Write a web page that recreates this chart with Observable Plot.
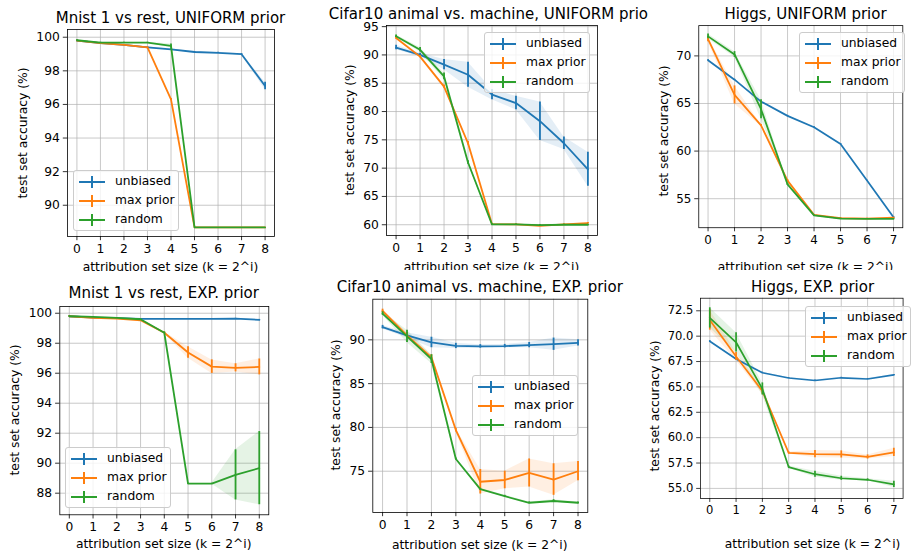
<!DOCTYPE html>
<html><head><meta charset="utf-8">
<script src="https://cdn.jsdelivr.net/npm/d3@7"></script>
<script src="https://cdn.jsdelivr.net/npm/@observablehq/plot@0.6"></script>
<style>
html,body{margin:0;padding:0;background:#fff;overflow:hidden}
#fig{position:relative;width:912px;height:555px;overflow:hidden;font-family:"DejaVu Sans",sans-serif;color:#000}
.cell{position:absolute;overflow:hidden;background:#fff}
.cell svg{position:absolute;left:0;top:0}
.txt{position:absolute;white-space:nowrap;line-height:1;transform:translate(-50%,-50%)}
.title{font-size:15px}
.lab{font-size:12.3px}
.ylab{transform:translate(-50%,-50%) rotate(-90deg)}
.legend{position:absolute;box-sizing:border-box;border:1px solid #cccccc;border-radius:3px;background:rgba(255,255,255,0.8)}
.lrow{position:absolute;left:0;width:100%;height:0}
.lline{position:absolute;left:5px;width:26px;top:-1px;height:2px}
.ltick{position:absolute;left:17px;top:-6px;width:2px;height:12px}
.ltext{position:absolute;left:41px;top:0;font-size:12.3px;line-height:1;transform:translateY(-55%);white-space:nowrap}
</style>
</head><body><div id="fig"></div>
<script>
// ---------- data ----------
const seriesNames = ["unbiased", "max prior", "random"];
const xTicks9 = [0, 1, 2, 3, 4, 5, 6, 7, 8];
const xTicks8 = [0, 1, 2, 3, 4, 5, 6, 7];

const mnistYTicks = [90, 92, 94, 96, 98, 100];
const mnistExpYTicks = [88, 90, 92, 94, 96, 98, 100];
const cifarUniYTicks = [60, 65, 70, 75, 80, 85, 90, 95];
const cifarExpYTicks = [75, 80, 85, 90];
const higgsUniYTicks = [55, 60, 65, 70];
const higgsExpYTicks = [55.0, 57.5, 60.0, 62.5, 65.0, 67.5, 70.0, 72.5];

// Mnist 1 vs rest, UNIFORM prior
const mnistUniUnbiased    = [99.80, 99.65, 99.55, 99.40, 99.28, 99.12, 99.07, 98.99, 97.10];
const mnistUniUnbiasedErr = [0.02, 0.02, 0.02, 0.02, 0.03, 0.03, 0.03, 0.03, 0.22];
const mnistUniMax         = [99.80, 99.65, 99.54, 99.40, 96.30, 88.68, 88.68, 88.68, 88.68];
const mnistUniMaxErr      = [0.02, 0.02, 0.02, 0.02, 0.05, 0, 0, 0, 0];
const mnistUniRandom      = [99.82, 99.68, 99.68, 99.68, 99.48, 88.68, 88.68, 88.68, 88.68];
const mnistUniRandomErr   = [0.02, 0.02, 0.02, 0.02, 0.12, 0, 0, 0, 0];

// Cifar10 animal vs. machine, UNIFORM prior
const cifarUniUnbiased    = [91.3, 90.0, 88.3, 86.5, 83.0, 81.5, 78.3, 74.4, 69.8];
const cifarUniUnbiasedErr = [0.4, 0.3, 0.9, 2.2, 0.9, 1.2, 3.4, 1.1, 3.0];
const cifarUniMax         = [93.0, 89.7, 84.4, 74.4, 60.1, 60.05, 59.8, 60.05, 60.3];
const cifarUniMaxErr      = [0.2, 0.2, 0.3, 0.3, 0.1, 0.1, 0.1, 0.1, 0.1];
const cifarUniRandom      = [93.3, 90.9, 86.2, 71.0, 60.05, 60.05, 59.95, 60.0, 60.0];
const cifarUniRandomErr   = [0.2, 0.4, 0.6, 0.3, 0.1, 0.1, 0.1, 0.1, 0.1];

// Higgs, UNIFORM prior
const higgsUniUnbiased    = [69.55, 67.5, 65.2, 63.7, 62.5, 60.75, 56.9, 53.05];
const higgsUniUnbiasedErr = [0.05, 0.05, 0.05, 0.05, 0.05, 0.05, 0.05, 0.05];
const higgsUniMax         = [71.75, 65.9, 62.7, 56.9, 53.3, 52.95, 52.9, 53.0];
const higgsUniMaxErr      = [0.25, 0.95, 0.1, 0.1, 0.05, 0.05, 0.05, 0.05];
const higgsUniRandom      = [72.05, 70.15, 64.4, 56.5, 53.25, 52.9, 52.88, 52.88];
const higgsUniRandomErr   = [0.25, 0.3, 1.0, 0.1, 0.05, 0.05, 0.05, 0.05];

// Mnist 1 vs rest, EXP. prior
const mnistExpUnbiased    = [99.80, 99.71, 99.67, 99.62, 99.62, 99.62, 99.62, 99.64, 99.56];
const mnistExpUnbiasedErr = [0.02, 0.02, 0.02, 0.02, 0.02, 0.02, 0.02, 0.02, 0.03];
const mnistExpMax         = [99.80, 99.69, 99.64, 99.53, 98.70, 97.38, 96.44, 96.36, 96.42];
const mnistExpMaxErr      = [0.02, 0.02, 0.02, 0.03, 0.05, 0.38, 0.45, 0.27, 0.53];
const mnistExpRandom      = [99.80, 99.76, 99.69, 99.60, 98.70, 88.64, 88.64, 89.22, 89.67];
const mnistExpRandomErr   = [0.02, 0.02, 0.02, 0.02, 0.05, 0.02, 0.02, 1.67, 2.44];

// Cifar10 animal vs. machine, EXP. prior
const cifarExpUnbiased    = [91.45, 90.5, 89.7, 89.3, 89.25, 89.28, 89.4, 89.5, 89.65];
const cifarExpUnbiasedErr = [0.2, 0.3, 0.6, 0.3, 0.2, 0.2, 0.3, 0.7, 0.35];
const cifarExpMax         = [93.3, 90.5, 88.0, 79.7, 73.8, 74.0, 74.8, 74.05, 75.0];
const cifarExpMaxErr      = [0.2, 0.3, 0.3, 0.2, 1.4, 1.0, 1.6, 1.8, 1.1];
const cifarExpRandom      = [93.0, 90.4, 87.8, 76.4, 72.95, 72.15, 71.4, 71.6, 71.4];
const cifarExpRandomErr   = [0.2, 0.7, 0.5, 0.1, 0.1, 0.1, 0.1, 0.15, 0.1];

// Higgs, EXP. prior
const higgsExpUnbiased    = [69.5, 67.75, 66.4, 65.88, 65.63, 65.9, 65.78, 66.18];
const higgsExpUnbiasedErr = [0.05, 0.05, 0.05, 0.05, 0.05, 0.05, 0.05, 0.05];
const higgsExpMax         = [71.6, 68.0, 64.6, 58.5, 58.38, 58.35, 58.1, 58.55];
const higgsExpMaxErr      = [1.0, 0.4, 0.3, 0.1, 0.35, 0.35, 0.2, 0.4];
const higgsExpRandom      = [71.8, 69.4, 64.8, 57.1, 56.4, 56.0, 55.85, 55.4];
const higgsExpRandomErr   = [1.0, 0.95, 0.6, 0.1, 0.3, 0.2, 0.1, 0.3];

// ---------- styling / layout ----------
const colors = ["#1f77b4", "#ff7f0e", "#2ca02c"];
const yLabel = "test set accuracy (%)";
const xLabel = "attribution set size (k = 2^i)";

function rows(xs, v, e) { return xs.map((x, i) => ({x, y: v[i], lo: v[i] - e[i], hi: v[i] + e[i]})); }

const panels = [
  {title: "Mnist 1 vs rest, UNIFORM prior", xs: xTicks9, yTicks: mnistYTicks, fmt: d3.format("d"),
   data: [[mnistUniUnbiased, mnistUniUnbiasedErr], [mnistUniMax, mnistUniMaxErr], [mnistUniRandom, mnistUniRandomErr]],
   cell: [0, 0, 302, 274], frame: [67, 274, 29, 236], xDom: [-0.4, 8.4], yDom: [88.14, 100.46],
   titleY: 18, xlabY: 266.7, ylabX: 23.3, legend: [73, 170]},
  {title: "Cifar10 animal vs. machine, UNIFORM prior", xs: xTicks9, yTicks: cifarUniYTicks, fmt: d3.format("d"),
   data: [[cifarUniUnbiased, cifarUniUnbiasedErr], [cifarUniMax, cifarUniMaxErr], [cifarUniRandom, cifarUniRandomErr]],
   cell: [302, 0, 346, 269.5], frame: [386, 597, 25, 235], xDom: [-0.4, 8.4], yDom: [58.1, 95.2],
   titleY: 13.5, xlabY: 266.7, ylabX: 349.5, legend: [484, 32]},
  {title: "Higgs, UNIFORM prior", xs: xTicks8, yTicks: higgsUniYTicks, fmt: d3.format("d"),
   data: [[higgsUniUnbiased, higgsUniUnbiasedErr], [higgsUniMax, higgsUniMaxErr], [higgsUniRandom, higgsUniRandomErr]],
   cell: [648, 0, 264, 269.5], frame: [700, 911, 26, 235], xDom: [-0.35, 7.35], yDom: [51.95, 73.18],
   titleY: 13.5, xlabY: 266.7, ylabX: 663.5, legend: [799, 32]},
  {title: "Mnist 1 vs rest, EXP. prior", xs: xTicks9, yTicks: mnistExpYTicks, fmt: d3.format("d"),
   data: [[mnistExpUnbiased, mnistExpUnbiasedErr], [mnistExpMax, mnistExpMaxErr], [mnistExpRandom, mnistExpRandomErr]],
   cell: [0, 274, 302, 281], frame: [59.3, 268.3, 306, 514.3], xDom: [-0.4, 8.4], yDom: [86.56, 100.45],
   titleY: 292.7, xlabY: 543.7, ylabX: 15.3, legend: [65, 447]},
  {title: "Cifar10 animal vs. machine, EXP. prior", xs: xTicks9, yTicks: cifarExpYTicks, fmt: d3.format("d"),
   data: [[cifarExpUnbiased, cifarExpUnbiasedErr], [cifarExpMax, cifarExpMaxErr], [cifarExpRandom, cifarExpRandomErr]],
   cell: [302, 274, 328, 281], frame: [372.3, 587.3, 298.7, 512], xDom: [-0.4, 8.4], yDom: [70.29, 94.64],
   titleY: 287, xlabY: 544.5, ylabX: 335.7, legend: [472, 375]},
  {title: "Higgs, EXP. prior", xs: xTicks8, yTicks: higgsExpYTicks, fmt: d3.format(".1f"),
   data: [[higgsExpUnbiased, higgsExpUnbiasedErr], [higgsExpMax, higgsExpMaxErr], [higgsExpRandom, higgsExpRandomErr]],
   cell: [630, 274, 282, 281], frame: [704.7, 920.5, 299.3, 512.7], xDom: [-0.35, 7.35], yDom: [54.01, 73.74],
   titleY: 287, xlabY: 543.7, ylabX: 655.2, legend: [805, 306]}
];

const fig = document.getElementById("fig");

function addText(parent, cls, text, x, y) {
  const d = document.createElement("div");
  d.className = "txt " + cls;
  d.textContent = text;
  d.style.left = x + "px";
  d.style.top = y + "px";
  parent.appendChild(d);
  return d;
}

for (const p of panels) {
  const [cx, cy, cw, ch] = p.cell;
  const [fl, fr, ft, fb] = p.frame;
  const cell = document.createElement("div");
  cell.className = "cell";
  Object.assign(cell.style, {left: cx + "px", top: cy + "px", width: cw + "px", height: ch + "px"});
  fig.appendChild(cell);

  const series = p.data.map(([v, e], i) => ({name: seriesNames[i], color: colors[i], rows: rows(p.xs, v, e)}));
  const mR = 10, mB = 40;
  const marks = [
    Plot.gridX({ticks: p.xs, stroke: "#b0b0b0", strokeOpacity: 0.7, strokeWidth: 1}),
    Plot.gridY({ticks: p.yTicks, stroke: "#b0b0b0", strokeOpacity: 0.7, strokeWidth: 1}),
    ...series.map(s => Plot.areaY(s.rows, {x: "x", y1: "lo", y2: "hi", fill: s.color, fillOpacity: 0.12})),
    ...series.flatMap(s => [
      Plot.lineY(s.rows, {x: "x", y: "y", stroke: s.color, strokeWidth: 1.8}),
      Plot.ruleX(s.rows, {x: "x", y1: "lo", y2: "hi", stroke: s.color, strokeWidth: 1.8})
    ]),
    Plot.axisX({ticks: p.xs, tickFormat: d3.format("d"), tickSize: 4.2, tickPadding: 3.5, fontSize: 12.3, strokeWidth: 0.8, label: null}),
    Plot.axisY({ticks: p.yTicks, tickFormat: p.fmt, tickSize: 4.2, tickPadding: 3.5, fontSize: 12.3, strokeWidth: 0.8, label: null}),
    Plot.frame({stroke: "#000", strokeWidth: 0.8})
  ];
  const svg = Plot.plot({
    width: fr - cx + mR,
    height: fb - cy + mB,
    marginLeft: fl - cx, marginRight: mR, marginTop: ft - cy, marginBottom: mB,
    x: {domain: p.xDom, label: null},
    y: {domain: p.yDom, label: null},
    style: {fontFamily: "DejaVu Sans", fontSize: "12.3px", background: "transparent", overflow: "visible", color: "#000"},
    marks
  });
  cell.appendChild(svg);

  addText(cell, "title", p.title, (fl + fr) / 2 - cx, p.titleY - cy);
  addText(cell, "lab", xLabel, (fl + fr) / 2 - cx, p.xlabY - cy);
  addText(cell, "lab ylab", yLabel, p.ylabX - cx, (ft + fb) / 2 - cy);

  const lg = document.createElement("div");
  lg.className = "legend";
  Object.assign(lg.style, {left: Math.round(p.legend[0] - cx) + "px", top: Math.round(p.legend[1] - cy) + "px", width: "106px", height: "61px"});
  series.forEach((s, i) => {
    const r = document.createElement("div");
    r.className = "lrow";
    r.style.top = (11 + i * 19) + "px";
    const ln = document.createElement("div"); ln.className = "lline"; ln.style.background = s.color;
    const tk = document.createElement("div"); tk.className = "ltick"; tk.style.background = s.color;
    const tx = document.createElement("div"); tx.className = "ltext"; tx.textContent = s.name;
    r.append(ln, tk, tx);
    lg.appendChild(r);
  });
  cell.appendChild(lg);
}
</script></body></html>
